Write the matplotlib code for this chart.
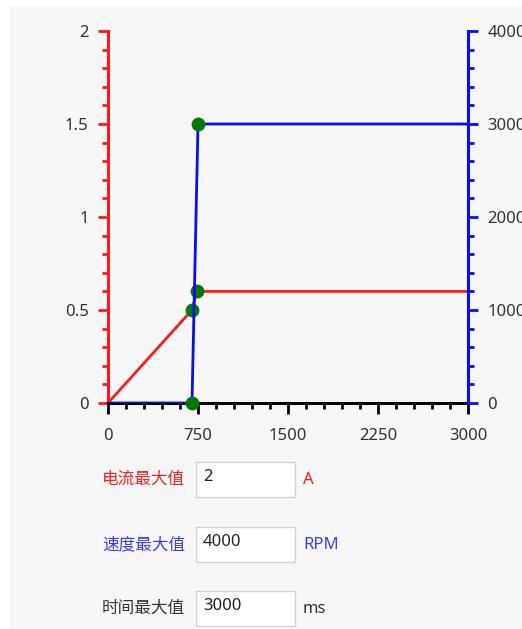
import matplotlib
matplotlib.use("Agg")
import matplotlib.pyplot as plt
from matplotlib.patches import Rectangle
from matplotlib.ticker import MultipleLocator, AutoMinorLocator

plt.rcParams['font.family'] = ['Noto Sans', 'Noto Sans CJK SC', 'DejaVu Sans']

# 数据
time_ms = [0, 700, 740, 3000]
current_a = [0, 0.5, 0.6, 0.6]
speed_time = [0, 700, 750, 3000]
speed_rpm = [0, 0, 3000, 3000]
marker_cur_t = [700, 740]
marker_cur_v = [0.5, 0.6]
marker_spd_t = [700, 750]
marker_spd_v = [0, 3000]

cur_max = 2
spd_max = 4000
time_max = 3000

W, H = 522, 629
fig = plt.figure(figsize=(W / 100, H / 100), dpi=100)
fig.patch.set_facecolor("white")
# 灰色面板
fig.add_artist(Rectangle((10 / W, 0), 1, 1 - 6 / H, transform=fig.transFigure,
                         facecolor="#f7f7f7", edgecolor="none", zorder=-10))

x0, x1, y0, y1 = 108, 468, 403, 31
ax = fig.add_axes([x0 / W, 1 - y0 / H, (x1 - x0) / W, (y0 - y1) / H])
ax.set_facecolor("none")
ax2 = ax.twinx()

red = "#ff1a1a"
blue = "#0a0aff"
green = "#007a00"
txt = "#333333"
fs = 12

ax.plot(time_ms, current_a, color=red, lw=2, zorder=3)
ax2.plot(speed_time, speed_rpm, color=blue, lw=2, zorder=3)
ax.scatter(marker_cur_t, marker_cur_v, s=80, color=green, zorder=5, clip_on=False)
ax2.scatter(marker_spd_t, marker_spd_v, s=80, color=green, zorder=5, clip_on=False)

ax.set_xlim(0, time_max)
ax.set_ylim(0, cur_max)
ax2.set_ylim(0, spd_max)

for a in (ax, ax2):
    a.spines['top'].set_visible(False)
ax.spines['right'].set_visible(False)
ax2.spines['left'].set_visible(False)
ax2.spines['bottom'].set_visible(False)
ax.spines['left'].set_color(red)
ax.spines['left'].set_linewidth(2.2)
ax.spines['bottom'].set_color("black")
ax.spines['bottom'].set_linewidth(2.2)
ax2.spines['right'].set_color(blue)
ax2.spines['right'].set_linewidth(2.2)

ax.set_xticks([0, 750, 1500, 2250, 3000])
ax.set_xticklabels(["0", "750", "1500", "2250", "3000"])
ax.xaxis.set_minor_locator(AutoMinorLocator(5))
ax.set_yticks([0, 0.5, 1, 1.5, 2])
ax.set_yticklabels(["0", "0.5", "1", "1.5", "2"])
ax.yaxis.set_minor_locator(AutoMinorLocator(5))
ax2.yaxis.set_major_locator(MultipleLocator(1000))
ax2.yaxis.set_minor_locator(AutoMinorLocator(5))

ax.tick_params(axis='x', which='major', length=8, width=2, color="black",
               labelsize=fs, labelcolor=txt, pad=10)
ax.tick_params(axis='x', which='minor', length=4, width=2, color="black")
ax.tick_params(axis='y', which='major', length=7, width=2, color=red,
               labelsize=fs, labelcolor=txt, pad=7)
ax.tick_params(axis='y', which='minor', length=4, width=2, color=red)
ax2.tick_params(axis='y', which='major', length=7, width=2, color=blue,
                labelsize=fs, labelcolor=txt, pad=7)
ax2.tick_params(axis='y', which='minor', length=4, width=2, color=blue)

# 输入框区域
rows = [
    ("电流最大值", str(cur_max), "A", "#ff2020", "#ff2020", 480),
    ("速度最大值", str(spd_max), "RPM", "#3a3aff", "#3a3aff", 545),
    ("时间最大值", str(time_max), "ms", txt, txt, 609),
]
for label, val, unit, lc, uc, yc in rows:
    fig.text(102 / W, 1 - yc / H, label, color=lc, fontsize=fs, va="center", ha="left")
    fig.add_artist(Rectangle((196 / W, 1 - (yc + 17) / H), 99 / W, 35 / H,
                             transform=fig.transFigure, facecolor="white",
                             edgecolor="#d0d4da", lw=1))
    fig.text(203 / W, 1 - (yc - 3) / H, val, color="#222222", fontsize=fs,
             va="center", ha="left")
    fig.text(303 / W, 1 - yc / H, unit, color=uc, fontsize=fs, va="center", ha="left")

fig.savefig("out.png", dpi=100)
